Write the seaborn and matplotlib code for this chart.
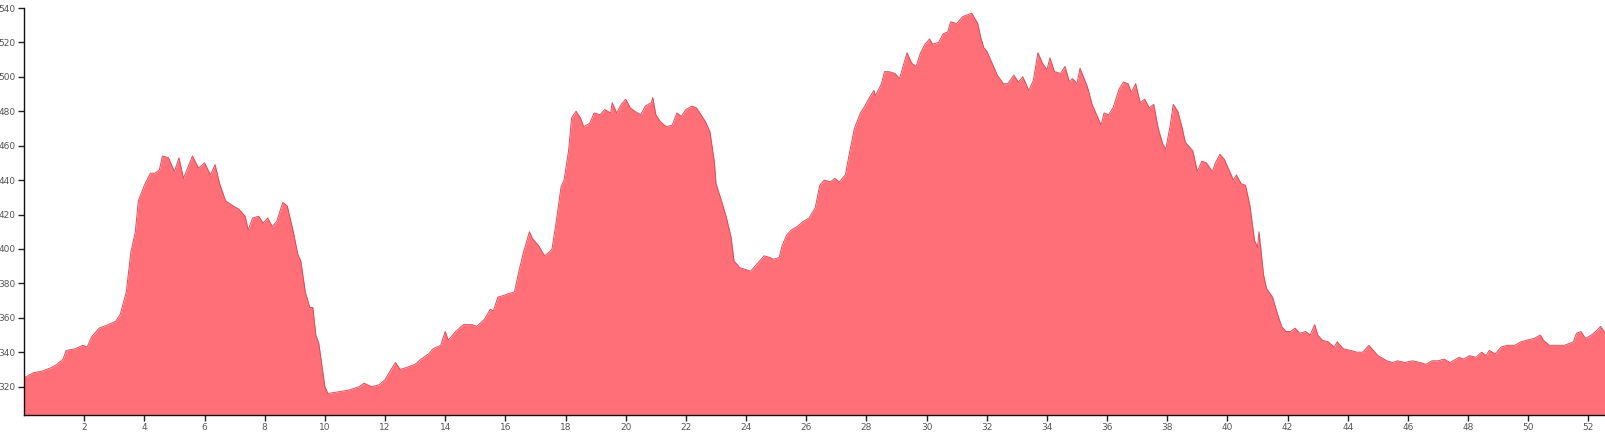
import seaborn as sns
import matplotlib.pyplot as plt
import pandas as pd

# distance (km) and elevation (m)
distance = [
    0.0, 0.3, 0.6, 0.9, 1.1, 1.3, 1.4, 1.7, 1.96, 2.1, 2.25, 2.5, 2.8, 3.05, 3.2, 3.4, 3.55, 3.7, 3.8,
    4.0, 4.2, 4.35, 4.5, 4.6, 4.8, 5.0, 5.15, 5.3, 5.6, 5.8, 6.0, 6.2, 6.35, 6.5, 6.7, 6.95,
    7.15, 7.35, 7.45, 7.6, 7.8, 7.95, 8.1, 8.25, 8.4, 8.6, 8.75, 8.95, 9.1, 9.2, 9.35, 9.5,
    9.6, 9.7, 9.8, 10.0, 10.1, 10.45, 10.8, 11.15, 11.3, 11.55, 11.8, 12.0, 12.2, 12.35, 12.5,
    12.7, 13.0, 13.2, 13.45, 13.6, 13.85, 14.0, 14.1, 14.35, 14.6, 14.9, 15.05, 15.3, 15.5,
    15.6, 15.75, 15.95, 16.1, 16.3, 16.45, 16.6, 16.8, 16.9, 17.1, 17.3, 17.45, 17.55, 17.7,
    17.85, 17.95, 18.1, 18.2, 18.35, 18.5, 18.6, 18.8, 18.95, 19.15, 19.3, 19.5, 19.55, 19.7,
    19.85, 20.0, 20.15, 20.3, 20.5, 20.65, 20.85, 20.9, 21.0, 21.15, 21.35, 21.55, 21.7, 21.85,
    22.0, 22.2, 22.35, 22.5, 22.65, 22.8, 22.95, 23.0, 23.2, 23.35, 23.5, 23.6, 23.8, 24.0,
    24.15, 24.3, 24.45, 24.6, 24.8, 24.9, 25.1, 25.2, 25.35, 25.5, 25.7, 25.9, 26.1, 26.3,
    26.45, 26.6, 26.8, 26.95, 27.1, 27.3, 27.45, 27.6, 27.8, 27.95, 28.1, 28.25, 28.3, 28.5,
    28.6, 28.75, 28.95, 29.1, 29.25, 29.35, 29.5, 29.65, 29.8, 29.95, 30.1, 30.2, 30.4, 30.55,
    30.7, 30.8, 31.0, 31.2, 31.35, 31.5, 31.7, 31.8, 31.9, 32.0, 32.2, 32.35, 32.55, 32.7,
    32.9, 33.05, 33.2, 33.4, 33.55, 33.7, 33.85, 34.0, 34.1, 34.25, 34.45, 34.6, 34.75, 34.85,
    35.0, 35.1, 35.35, 35.5, 35.7, 35.8, 35.9, 36.05, 36.2, 36.4, 36.55, 36.7, 36.8, 36.95,
    37.1, 37.25, 37.4, 37.55, 37.7, 37.85, 37.95, 38.1, 38.2, 38.35, 38.5, 38.6, 38.85, 39.0,
    39.15, 39.3, 39.5, 39.6, 39.75, 39.9, 40.0, 40.2, 40.3, 40.45, 40.6, 40.75, 40.9, 41.0,
    41.05, 41.2, 41.3, 41.5, 41.65, 41.8, 41.95, 42.1, 42.25, 42.4, 42.6, 42.75, 42.9, 43.0,
    43.15, 43.35, 43.55, 43.65, 43.85, 44.1, 44.3, 44.5, 44.7, 44.85, 45.0, 45.3, 45.5, 45.65,
    45.9, 46.15, 46.4, 46.6, 46.8, 47.0, 47.2, 47.4, 47.7, 47.85, 48.05, 48.25, 48.45, 48.6,
    48.7, 48.9, 49.1, 49.3, 49.55, 49.75, 49.95, 50.2, 50.4, 50.5, 50.7, 50.9, 51.2, 51.5,
    51.6, 51.75, 51.9, 52.1, 52.3, 52.4, 52.6,
]
elevation = [
    325, 328, 329, 331, 333, 336, 341, 342, 344, 343, 349, 354, 356, 358, 362, 375, 398, 410, 428,
    437, 444, 444, 446, 454, 453, 445, 453, 441, 454, 447, 450, 443, 449, 438, 428, 425,
    423, 419, 411, 418, 419, 415, 418, 413, 416, 427, 425, 410, 397, 393, 375, 366,
    366, 350, 345, 320, 316, 317, 318, 320, 322, 320, 321, 324, 330, 334, 330,
    331, 333, 336, 339, 342, 344, 352, 347, 352, 356, 356, 355, 359, 365,
    364, 372, 373, 374, 375, 387, 398, 410, 406, 402, 396, 398, 400, 417,
    436, 440, 457, 476, 480, 476, 471, 473, 479, 478, 481, 479, 485, 479,
    484, 487, 482, 480, 478, 483, 485, 488, 478, 474, 471, 472, 479, 477,
    481, 483, 482, 478, 474, 468, 450, 438, 427, 418, 407, 393, 389, 388,
    387, 390, 393, 396, 395, 394, 395, 402, 408, 411, 413, 416, 418, 424,
    437, 440, 439, 441, 439, 443, 457, 470, 479, 483, 488, 492, 489, 496,
    503, 503, 502, 499, 508, 514, 508, 506, 514, 519, 522, 519, 520, 525,
    526, 532, 531, 535, 536, 537, 531, 523, 517, 515, 507, 501, 496, 496,
    501, 497, 500, 492, 498, 514, 508, 504, 511, 503, 502, 506, 497, 499,
    496, 505, 494, 484, 476, 472, 479, 478, 482, 493, 497, 496, 491, 496,
    485, 487, 482, 484, 470, 461, 458, 472, 484, 480, 470, 462, 457, 445,
    451, 450, 445, 450, 455, 452, 448, 440, 443, 438, 437, 425, 405, 401,
    410, 385, 377, 372, 363, 355, 352, 352, 354, 351, 352, 350, 356, 350,
    347, 346, 343, 346, 342, 341, 340, 340, 344, 341, 338, 335, 334, 335,
    334, 335, 334, 333, 335, 335, 336, 334, 337, 336, 338, 337, 340, 338,
    341, 339, 343, 344, 344, 346, 347, 348, 350, 347, 344, 344, 344, 346,
    351, 352, 348, 350, 353, 355, 350,
]

df = pd.DataFrame({"distance": distance, "elevation": elevation})

sns.set_style("ticks")
fig = plt.figure(figsize=(16.05, 4.32), dpi=100)
ax = fig.add_axes([24 / 1605, 17 / 432, 1 - 24 / 1605, 407 / 432])

ymin = 303.5
ax.fill_between(df["distance"], df["elevation"], ymin, color="#ff6f78", linewidth=0)
sns.lineplot(data=df, x="distance", y="elevation", ax=ax, color="#d9505c", linewidth=0.7)

ax.set_xlim(0, 52.55)
ax.set_ylim(ymin, 540)
ax.set_xticks(range(2, 53, 2))
ax.set_yticks(range(320, 541, 20))
ax.set_xlabel("")
ax.set_ylabel("")
ax.tick_params(axis="both", length=4, width=1, color="#222222", labelsize=6.5,
               labelcolor="#555555", pad=2)
for side in ["top", "right"]:
    ax.spines[side].set_visible(False)
for side in ["left", "bottom"]:
    ax.spines[side].set_color("#111111")
    ax.spines[side].set_linewidth(1)

plt.savefig("out.png", dpi=100)
